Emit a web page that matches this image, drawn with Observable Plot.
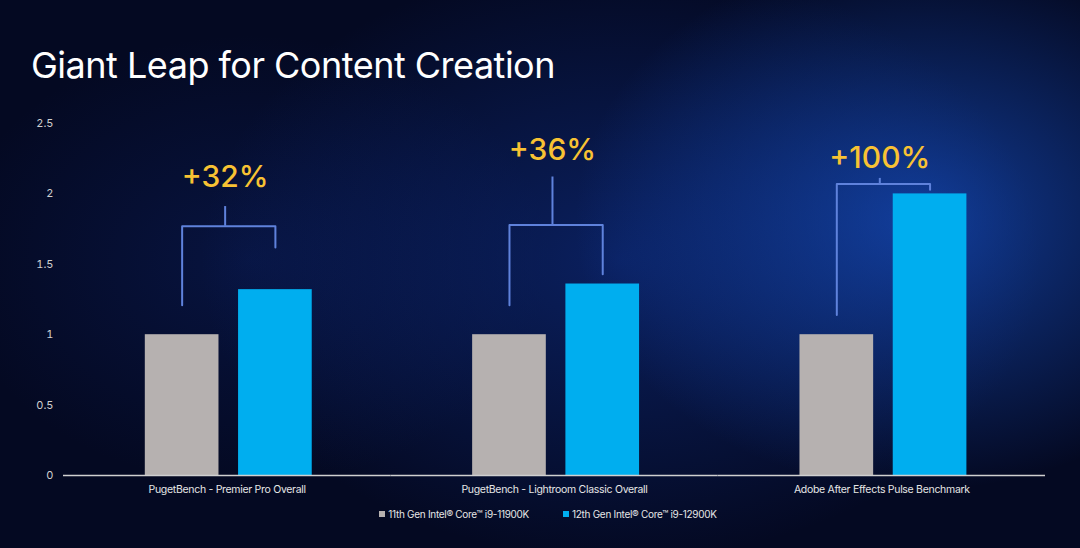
<!DOCTYPE html>
<html>
<head>
<meta charset="utf-8">
<script src="https://cdn.jsdelivr.net/npm/d3@7"></script>
<script src="https://cdn.jsdelivr.net/npm/@observablehq/plot@0.6"></script>
<style>
  html, body { margin: 0; padding: 0; background: #040922; }
  #chart {
    position: relative; width: 1080px; height: 548px; overflow: hidden;
    background:
      radial-gradient(ellipse 460px 360px at 920px 220px, rgba(25,90,220,0.62), rgba(25,90,220,0) 75%),
      radial-gradient(ellipse 560px 400px at 620px 260px, rgba(18,60,170,0.45), rgba(18,60,170,0) 75%),
      radial-gradient(ellipse 400px 300px at 250px 260px, rgba(14,40,120,0.35), rgba(14,40,120,0) 75%),
      #040922;
    font-family: Inter, "Open Sans", sans-serif;
  }
  #title {
    position: absolute; left: 31px; top: 41px; line-height: 48px;
    font-size: 36px; font-weight: 400; color: #ffffff; letter-spacing: -0.5px; white-space: nowrap;
  }
  #plot { position: absolute; left: 0; top: 100px; }
  #legend {
    position: absolute; top: 507px; left: 8px; width: 1080px; text-align: center;
    font-size: 10px; color: #e6e6e6; letter-spacing: -0.3px; white-space: nowrap;
  }
  #legend span.item { display: inline-flex; align-items: center; margin: 0 17px; }
  #legend span.sw { display: inline-block; width: 6px; height: 6px; margin-right: 3px; }
  svg [aria-label="fx-axis tick label"] text { font-size: 10.5px; letter-spacing: -0.3px; fill: #e6e6e6; }
  svg [aria-label="y-axis tick label"] text { fill: #d0d0d0; }
</style>
</head>
<body>
<div id="chart">
  <div id="title">Giant Leap for Content Creation</div>
  <div id="plot"></div>
  <div id="legend"></div>
</div>
<script>
// ---- data ----
const categories = [
  "PugetBench - Premier Pro Overall",
  "PugetBench - Lightroom Classic Overall",
  "Adobe After Effects Pulse Benchmark"
];
const seriesNames = [
  "11th Gen Intel\u00AE Core\u2122 i9-11900K",
  "12th Gen Intel\u00AE Core\u2122 i9-12900K"
];
const gen11Values = [1, 1, 1];
const gen12Values = [1.32, 1.36, 2.0];
const gainLabels = ["+32%", "+36%", "+100%"];
// bracket annotation levels (in chart units)
const bracketLeftBottom = [1.21, 1.21, 1.14];
const bracketRightBottom = [1.62, 1.43, 2.03];
const bracketTop = [1.77, 1.78, 2.07];
const stemTop = [1.91, 2.12, 2.11];
const labelLevel = [2.12, 2.31, 2.25];
const yTicks = [0, 0.5, 1, 1.5, 2, 2.5];
const seriesColors = ["#b6b1b0", "#00aeef"];

// ---- tables ----
const bars = [];
categories.forEach((c, i) => {
  bars.push({category: c, series: seriesNames[0], value: gen11Values[i]});
  bars.push({category: c, series: seriesNames[1], value: gen12Values[i]});
});
const bracket = [];
categories.forEach((c, i) => {
  bracket.push({category: c, series: seriesNames[0], y: bracketLeftBottom[i]});
  bracket.push({category: c, series: seriesNames[0], y: bracketTop[i]});
  bracket.push({category: c, series: seriesNames[1], y: bracketTop[i]});
  bracket.push({category: c, series: seriesNames[1], y: bracketRightBottom[i]});
});
const annot = categories.map((c, i) => ({
  category: c, series: seriesNames[0], top: bracketTop[i], stem: stemTop[i],
  label: labelLevel[i], gain: gainLabels[i]
}));

const bracketColor = "#5f82dc";

const chart = Plot.plot({
  width: 1080,
  height: 410,
  marginLeft: 63,
  marginRight: 35,
  marginTop: 23,
  marginBottom: 35,
  style: {background: "transparent", color: "#d8d8d8", fontFamily: "Inter, 'Open Sans', sans-serif", fontSize: "11px"},
  fx: {domain: categories, padding: 0, round: false, label: null, axis: "bottom", tickSize: 0, tickPadding: 10},
  x: {domain: seriesNames, paddingInner: 0.21, paddingOuter: 0.86, align: 0.51, round: false, axis: null},
  y: {domain: [0, 2.5], ticks: yTicks, tickSize: 0, tickPadding: 10, label: null, tickFormat: d => String(d)},
  color: {domain: seriesNames, range: seriesColors},
  marks: [
    Plot.barY(bars, {fx: "category", x: "series", y: "value", fill: "series"}),
    Plot.ruleY([0], {stroke: "#d0d0d0", strokeWidth: 1.5}),
    Plot.line(bracket, {fx: "category", x: "series", y: "y", z: "category", stroke: bracketColor, strokeWidth: 2, curve: "linear"}),
    Plot.ruleX(annot, {fx: "category", x: "series", dx: 43, y1: "top", y2: "stem", stroke: bracketColor, strokeWidth: 2}),
    Plot.text(annot, {fx: "category", x: "series", dx: 43, y: "label", text: "gain", fill: "#f8c233", fontSize: 30, fontWeight: 500, lineAnchor: "middle"})
  ]
});
document.getElementById("plot").appendChild(chart);

// ---- legend ----
const legend = document.getElementById("legend");
seriesNames.forEach((s, i) => {
  const item = document.createElement("span");
  item.className = "item";
  const sw = document.createElement("span");
  sw.className = "sw";
  sw.style.background = seriesColors[i];
  item.appendChild(sw);
  item.appendChild(document.createTextNode(s));
  legend.appendChild(item);
});
</script>
</body>
</html>
